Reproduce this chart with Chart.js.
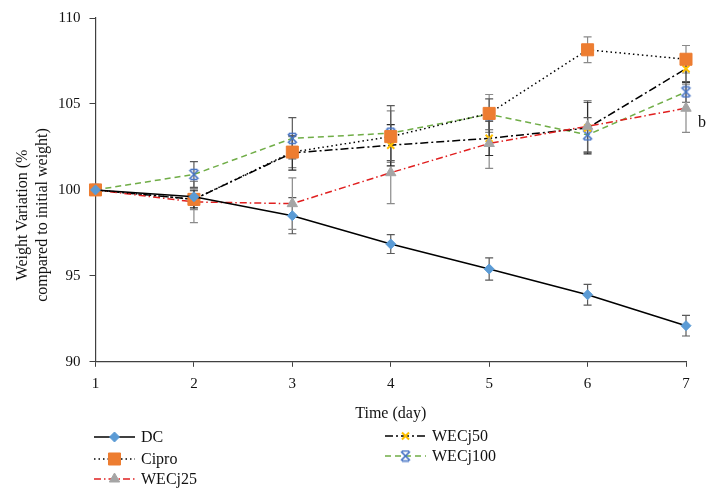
<!DOCTYPE html>
<html>
<head>
<meta charset="utf-8">
<script src="https://cdn.jsdelivr.net/npm/chart.js@4/dist/chart.umd.min.js"></script>
<style>
  body { margin: 0; background: #fff; }
  #wrap { position: relative; width: 716px; height: 499px; font-family: "Liberation Serif", serif; color: #111; }
  #yTitle { position: absolute; width: 260px; height: 40px; left: -98px; top: 195px; transform: rotate(-90deg);
            text-align: center; font-size: 16px; line-height: 20px; }
  .leg { position: absolute; display: flex; align-items: center; font-size: 16px; height: 20px; }
  .leg canvas { margin-right: 6px; }
</style>
</head>
<body>
<div id="wrap">
  <canvas id="chart" width="716" height="499"></canvas>
  <div id="yTitle">Weight Variation (%<br>compared to initial weight)</div>
  <div id="legend"></div>
</div>
<script>
const days = ["1", "2", "3", "4", "5", "6", "7"];
const seriesNames = ["DC", "Cipro", "WECj25", "WECj50", "WECj100"];

const dcMean = [100, 99.6, 98.5, 96.85, 95.4, 93.9, 92.1];
const dcErr = [0, 0.5, 1.05, 0.55, 0.65, 0.6, 0.6];
const ciproMean = [100, 99.45, 102.2, 103.1, 104.45, 108.15, 107.6];
const ciproErr = [0, 0.6, 0.9, 1.5, 1.1, 0.75, 0.8];
const w25Mean = [100, 99.3, 99.2, 101.0, 102.7, 103.7, 104.75];
const w25Err = [0, 1.2, 1.5, 1.8, 1.45, 1.5, 1.4];
const w50Mean = [100, 99.45, 102.15, 102.6, 103.0, 103.6, 107.05];
const w50Err = [0, 0.5, 1.0, 1.2, 1.0, 1.5, 0.8];
const w100Mean = [100, 100.9, 103.0, 103.3, 104.4, 103.2, 105.7];
const w100Err = [0, 0.75, 1.2, 1.6, 0.9, 1.0, 0.6];

const yTicks = [90, 95, 100, 105, 110];
const noteText = "b";
const noteValue = 103.9;

// marker for WECj100: x closed by bars top and bottom
function starMarker(color) {
  const c = document.createElement("canvas");
  c.width = 13; c.height = 13;
  const g = c.getContext("2d");
  g.strokeStyle = color; g.lineWidth = 1.7;
  g.beginPath();
  g.moveTo(2, 2); g.lineTo(11, 11);
  g.moveTo(11, 2); g.lineTo(2, 11);
  g.moveTo(3, 1.5); g.lineTo(10, 1.5);
  g.moveTo(3, 11.5); g.lineTo(10, 11.5);
  g.stroke();
  return c;
}

const styles = [
  { line: "#000000", dash: [], marker: "rectRot", r: 5, fill: "#5B9BD5", err: "#5a5a5a" },
  { line: "#000000", dash: [1.5, 3], marker: "rect", r: 8.5, fill: "#ED7D31", err: "#8a8a8a" },
  { line: "#E02020", dash: [7, 3, 1.5, 3], marker: "triangle", r: 6, fill: "#A5A5A5", err: "#8a8a8a" },
  { line: "#000000", dash: [8, 3, 2, 3], marker: "crossRot", r: 5, fill: "#FFC000", err: "#2a2a2a" },
  { line: "#70AD47", dash: [6, 4], marker: starMarker("#4472C4"), r: 6, fill: "#4472C4", err: "#5a5a5a" }
];

const means = [dcMean, ciproMean, w25Mean, w50Mean, w100Mean];
const errs = [dcErr, ciproErr, w25Err, w50Err, w100Err];

const datasets = seriesNames.map((name, i) => ({
  label: name,
  data: means[i],
  errors: errs[i],
  errColor: styles[i].err,
  borderColor: styles[i].line,
  borderDash: styles[i].dash,
  borderWidth: 1.5,
  pointStyle: styles[i].marker,
  pointRadius: styles[i].r,
  pointHoverRadius: styles[i].r,
  pointBackgroundColor: styles[i].fill,
  pointBorderColor: styles[i].fill,
  pointBorderWidth: styles[i].marker === "crossRot" ? 2 : 1,
  tension: 0,
  fill: false
}));

const errorBars = {
  id: "errorBars",
  beforeDatasetsDraw(chart) {
    const ctx = chart.ctx;
    const y = chart.scales.y;
    ctx.save();
    ctx.lineWidth = 1.2;
    chart.data.datasets.forEach((ds, i) => {
      const meta = chart.getDatasetMeta(i);
      ds.data.forEach((v, j) => {
        const e = ds.errors[j];
        if (!e) return;
        const px = meta.data[j].x;
        const top = y.getPixelForValue(v + e);
        const bot = y.getPixelForValue(v - e);
        ctx.strokeStyle = ds.errColor;
        ctx.beginPath();
        ctx.moveTo(px, top); ctx.lineTo(px, bot);
        ctx.moveTo(px - 4, top); ctx.lineTo(px + 4, top);
        ctx.moveTo(px - 4, bot); ctx.lineTo(px + 4, bot);
        ctx.stroke();
      });
    });
    ctx.restore();
  },
  afterDatasetsDraw(chart) {
    const ctx = chart.ctx;
    const meta = chart.getDatasetMeta(2);
    const last = meta.data[meta.data.length - 1];
    ctx.save();
    ctx.font = "16px 'Liberation Serif'";
    ctx.fillStyle = "#111";
    ctx.textBaseline = "middle";
    ctx.fillText(noteText, last.x + 12, chart.scales.y.getPixelForValue(noteValue));
    ctx.restore();
  }
};

new Chart(document.getElementById("chart"), {
  type: "line",
  data: { labels: days, datasets: datasets },
  plugins: [errorBars],
  options: {
    responsive: false,
    animation: false,
    layout: { padding: { left: 49, right: 30, top: 6, bottom: 72 } },
    plugins: { legend: { display: false }, tooltip: { enabled: false } },
    scales: {
      x: {
        offset: false,
        grid: { drawOnChartArea: false, drawTicks: true, tickLength: 5, color: "#404040" },
        border: { color: "#404040", width: 1.2 },
        ticks: { color: "#111", font: { family: "Liberation Serif", size: 15 }, padding: 8, maxRotation: 0 },
        title: { display: true, text: "Time (day)", color: "#111", font: { family: "Liberation Serif", size: 16 }, padding: { top: 3 } }
      },
      y: {
        min: 90, max: 110,
        afterBuildTicks(scale) { scale.ticks = yTicks.map(v => ({ value: v })); },
        grid: { drawOnChartArea: false, drawTicks: true, tickLength: 6, color: "#404040" },
        border: { color: "#404040", width: 1.2 },
        ticks: { color: "#111", font: { family: "Liberation Serif", size: 15 }, padding: 9 }
      }
    }
  }
});

// legend: two columns, line sample with marker, then name
const legendPos = [
  { x: 94, y: 437 }, { x: 94, y: 459 }, { x: 94, y: 479 },
  { x: 385, y: 436 }, { x: 385, y: 456 }
];
const legend = document.getElementById("legend");
seriesNames.forEach((name, i) => {
  const item = document.createElement("div");
  item.className = "leg";
  item.style.left = legendPos[i].x + "px";
  item.style.top = (legendPos[i].y - 10) + "px";
  const c = document.createElement("canvas");
  c.width = 41; c.height = 20;
  const g = c.getContext("2d");
  g.strokeStyle = styles[i].line;
  g.lineWidth = 1.5;
  g.setLineDash(styles[i].dash);
  g.beginPath(); g.moveTo(0, 10); g.lineTo(41, 10); g.stroke();
  g.setLineDash([]);
  g.fillStyle = styles[i].fill;
  g.strokeStyle = styles[i].fill;
  g.lineWidth = styles[i].marker === "crossRot" ? 2 : 1;
  Chart.helpers.drawPoint(g, { pointStyle: styles[i].marker, radius: styles[i].r, rotation: 0, borderWidth: g.lineWidth }, 20.5, 10);
  item.appendChild(c);
  const t = document.createElement("span");
  t.textContent = name;
  item.appendChild(t);
  legend.appendChild(item);
});
</script>
</body>
</html>
